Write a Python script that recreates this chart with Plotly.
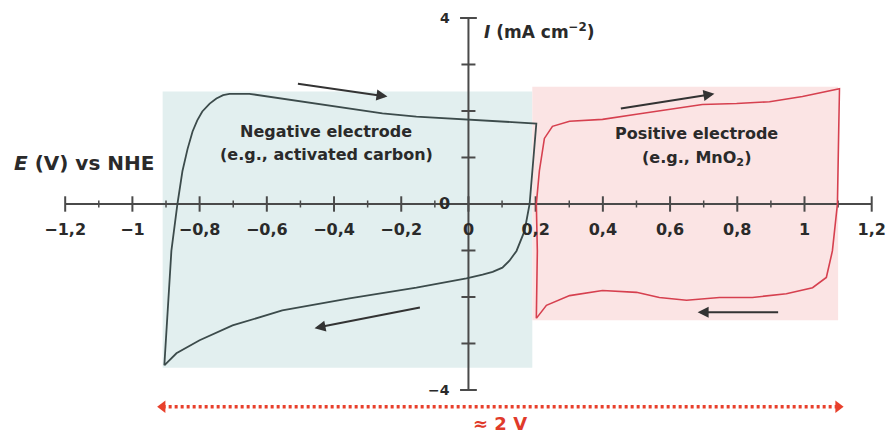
import plotly.graph_objects as go

# ---------------- data ----------------
# Negative electrode CV (activated carbon)
neg_E = [-0.905, -0.884, -0.866, -0.851, -0.836, -0.821, -0.807, -0.792, -0.77, -0.75, -0.73, -0.711,
         -0.652, -0.554, -0.452, -0.354, -0.256, -0.155, -0.006, 0.202,
         0.182, 0.167, 0.143, 0.122, 0.101, 0.072, 0.042, -0.006, -0.155, -0.354, -0.554,
         -0.702, -0.80, -0.869, -0.905]
neg_I = [-3.47, -1.01, 0.0, 0.71, 1.18, 1.56, 1.80, 1.99, 2.16, 2.27, 2.34, 2.37,
         2.37, 2.27, 2.16, 2.05, 1.95, 1.88, 1.82, 1.73,
         0.0, -0.58, -1.01, -1.22, -1.37, -1.46, -1.52, -1.60, -1.80, -2.03, -2.29,
         -2.61, -2.93, -3.21, -3.47]

# Positive electrode CV (MnO2)
pos_E = [0.202, 0.205, 0.202, 0.211, 0.226, 0.25, 0.301, 0.399, 0.5, 0.598, 0.696, 0.798,
         0.896, 0.994, 1.065, 1.104,
         1.098, 1.083, 1.065, 1.024, 0.946, 0.845, 0.747, 0.649, 0.568, 0.5, 0.399,
         0.301, 0.232, 0.202]
pos_I = [-2.46, -1.01, 0.0, 0.71, 1.41, 1.67, 1.78, 1.82, 1.93, 2.03, 2.14, 2.16,
         2.20, 2.31, 2.42, 2.48,
         0.0, -1.01, -1.58, -1.80, -1.93, -2.01, -2.01, -2.07, -2.01, -1.90, -1.86,
         -1.97, -2.18, -2.46]

# shaded electrode windows
neg_window_E = [-0.91, 0.19]
neg_window_I = [-3.52, 2.42]
pos_window_E = [0.19, 1.10]
pos_window_I = [-2.50, 2.52]

# scan direction arrows (start E, start I, end E, end I)
arrow_start_E = [-0.512, -0.140, 0.449, 0.926]
arrow_start_I = [2.59, -2.22, 2.05, -2.33]
arrow_end_E = [-0.241, -0.458, 0.732, 0.682]
arrow_end_I = [2.31, -2.67, 2.37, -2.33]

# axes ticks
x_major = [-1.2, -1.0, -0.8, -0.6, -0.4, -0.2, 0.0, 0.2, 0.4, 0.6, 0.8, 1.0, 1.2]
x_labels = ["\u22121,2", "\u22121", "\u22120,8", "\u22120,6", "\u22120,4", "\u22120,2", "0",
            "0,2", "0,4", "0,6", "0,8", "1", "1,2"]
x_minor = [-1.1, -0.9, -0.7, -0.5, -0.3, -0.1, 0.1, 0.3, 0.5, 0.7, 0.9, 1.1]
y_ticks = [-3, -2, -1, 1, 2, 3]
y_ends = [-4, 4]
y_labels_val = [4, 0, -4]
y_labels = ["4", "0", "\u22124"]

# total window span
span_E = [neg_window_E[0], pos_window_E[1]]
span_label = "\u2248 2 V"

# ---------------- figure ----------------
AX = "#4a4a4a"
TXT = "#2a2a2a"
FONT = "DejaVu Sans"

fig = go.Figure()

# shaded windows
fig.add_shape(type="rect", xref="x", yref="y",
              x0=neg_window_E[0], x1=neg_window_E[1], y0=neg_window_I[0], y1=neg_window_I[1],
              fillcolor="#e2efef", line_width=0, layer="below")
fig.add_shape(type="rect", xref="x", yref="y",
              x0=pos_window_E[0], x1=pos_window_E[1], y0=pos_window_I[0], y1=pos_window_I[1],
              fillcolor="#fbe4e4", line_width=0, layer="below")

# axes drawn at origin
fig.add_trace(go.Scatter(x=[x_major[0], x_major[-1]], y=[0, 0], mode="lines",
                         line=dict(color=AX, width=2), hoverinfo="skip"))
fig.add_trace(go.Scatter(x=[0, 0], y=[y_ends[0], y_ends[1]], mode="lines",
                         line=dict(color=AX, width=2), hoverinfo="skip"))
fig.add_trace(go.Scatter(x=x_major, y=[0] * len(x_major), mode="markers",
                         marker=dict(symbol="line-ns", size=11, line=dict(color=AX, width=2)),
                         hoverinfo="skip"))
fig.add_trace(go.Scatter(x=x_minor, y=[0] * len(x_minor), mode="markers",
                         marker=dict(symbol="line-ns", size=5, line=dict(color=AX, width=1.5)),
                         hoverinfo="skip"))
fig.add_trace(go.Scatter(x=[0] * len(y_ticks), y=y_ticks, mode="markers",
                         marker=dict(symbol="line-ew", size=10, line=dict(color=AX, width=2)),
                         hoverinfo="skip"))
fig.add_trace(go.Scatter(x=[0, 0], y=y_ends, mode="markers",
                         marker=dict(symbol="line-ew", size=12, line=dict(color=AX, width=2)),
                         hoverinfo="skip"))

# CV curves
fig.add_trace(go.Scatter(x=neg_E, y=neg_I, mode="lines",
                         line=dict(color="#3c4b4b", width=1.8), hoverinfo="skip"))
fig.add_trace(go.Scatter(x=pos_E, y=pos_I, mode="lines",
                         line=dict(color="#d6404f", width=1.6), hoverinfo="skip"))

# x tick labels
fig.add_trace(go.Scatter(x=x_major, y=[-0.58] * len(x_major), mode="text", text=x_labels,
                         textfont=dict(family=FONT, size=16, color=TXT, weight="bold"),
                         textposition="middle center", hoverinfo="skip"))

# y tick labels
for v, lab in zip(y_labels_val, y_labels):
    fig.add_annotation(x=-0.05, y=v if v != -4 else -4.0, xref="x", yref="y", text=lab,
                       showarrow=False, xanchor="right", yanchor="middle",
                       font=dict(family=FONT, size=14 if v != 0 else 16, color=TXT, weight="bold"))

# scan arrows
for sx, sy, ex, ey in zip(arrow_start_E, arrow_start_I, arrow_end_E, arrow_end_I):
    fig.add_annotation(x=ex, y=ey, ax=sx, ay=sy, xref="x", yref="y", axref="x", ayref="y",
                       text="", showarrow=True, arrowhead=2, arrowsize=1.1, arrowwidth=2,
                       arrowcolor="#333333", standoff=0)

# electrode texts
fig.add_annotation(x=-0.423, y=1.56, xref="x", yref="y", text="<b>Negative electrode</b>",
                   showarrow=False, font=dict(family=FONT, size=16, color=TXT))
fig.add_annotation(x=-0.423, y=1.07, xref="x", yref="y", text="<b>(e.g., activated carbon)</b>",
                   showarrow=False, font=dict(family=FONT, size=16, color=TXT))
fig.add_annotation(x=0.679, y=1.52, xref="x", yref="y", text="<b>Positive electrode</b>",
                   showarrow=False, font=dict(family=FONT, size=16, color=TXT))
fig.add_annotation(x=0.679, y=0.98, xref="x", yref="y", text="<b>(e.g., MnO<sub>2</sub>)</b>",
                   showarrow=False, font=dict(family=FONT, size=16, color=TXT))

# axis titles
fig.add_annotation(x=0.04, y=3.73, xref="x", yref="y", text="<b><i>I</i> (mA cm<sup>\u22122</sup>)</b>",
                   showarrow=False, xanchor="left", font=dict(family=FONT, size=17, color=TXT))
fig.add_annotation(x=-1.357, y=0.88, xref="x", yref="y", text="<b><i>E</i> (V) vs NHE</b>",
                   showarrow=False, xanchor="left", font=dict(family=FONT, size=20, color=TXT))

# 2 V span arrow
fig.add_trace(go.Scatter(x=span_E, y=[-4.36, -4.36], mode="lines",
                         line=dict(color="#e8402c", width=3.5, dash="3px,3px"), hoverinfo="skip"))
fig.add_trace(go.Scatter(x=span_E, y=[-4.36, -4.36], mode="markers",
                         marker=dict(symbol=["triangle-left", "triangle-right"], size=11,
                                     color="#e8402c"), hoverinfo="skip"))
fig.add_annotation(x=0.094, y=-4.73, xref="x", yref="y", text="<b>" + span_label + "</b>",
                   showarrow=False, font=dict(family=FONT, size=18, color="#e03a2a"))

fig.update_layout(
    width=891, height=437, margin=dict(l=0, r=0, t=0, b=0),
    paper_bgcolor="white", plot_bgcolor="white", showlegend=False,
    xaxis=dict(range=[-1.394, 1.2574], visible=False, fixedrange=True),
    yaxis=dict(range=[-5.011, 4.387], visible=False, fixedrange=True),
)

fig.write_html("out.html")
